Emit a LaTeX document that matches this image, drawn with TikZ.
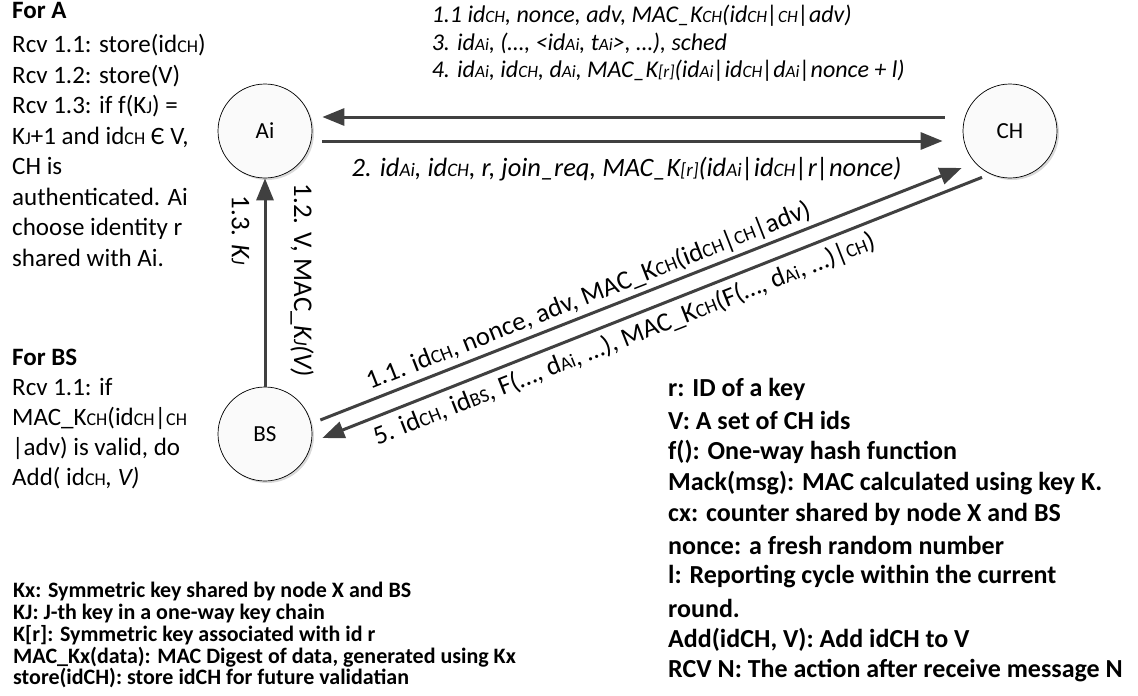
\documentclass[tikz,border=0pt]{standalone}
\usepackage{fontspec}
\setmainfont{Carlito}
\usepackage{graphicx}
\usetikzlibrary{arrows.meta, shadows}

\definecolor{msggray}{HTML}{404040}
\newcommand{\sm}[1]{\scalebox{0.72}{#1}}

\tikzset{
  station/.style={circle, draw=black, line width=0.7pt, fill=gray!4, minimum size=94pt, inner sep=0pt,
    font=\fontsize{23}{27}\selectfont, drop shadow={shadow xshift=2pt, shadow yshift=-2pt, opacity=0.3}},
  msg/.style={line width=3pt, draw=msggray, -{Triangle[length=22pt, width=17pt]}},
  toplbl/.style={font=\fontsize{24}{27.5}\selectfont\itshape, inner sep=0pt, align=left},
  diaglbl/.style={font=\fontsize{26.5}{30}\selectfont, inner sep=2pt, sloped},
  vlbl/.style={font=\fontsize{27}{30}\selectfont, rotate=-90, inner xsep=0pt},
  note/.style={font=\fontsize{25}{30.5}\selectfont, align=left, inner sep=0pt, anchor=north west},
  legend/.style={font=\fontsize{22}{26}\selectfont\bfseries, inner sep=0pt, anchor=west}
}

\begin{document}
\begin{tikzpicture}[x=1pt, y=-1pt]
    \useasboundingbox (0,0) rectangle (1138,696);

    % 1. THE THREE NODES
    \node[station] (Ai) at (265,131) {Ai};
    \node[station] (CH) at (1010,131) {CH};
    \node[station] (BS) at (265,434) {BS};

    % 2. MESSAGES BETWEEN Ai AND CH
    \draw[msg] ([shift={(-18,-14)}]CH.west) -- ([shift={(10,-14)}]Ai.east)
        node[toplbl, pos=0.8266, anchor=south west, yshift=34pt] (lblTop) {1.1 id\sm{CH}, nonce, adv, MAC\_K\sm{CH}(id\sm{CH}|\sm{CH}|adv)\\
        3. id\sm{Ai}, (…, <id\sm{Ai}, t\sm{Ai}>, …), sched\\
        4. id\sm{Ai}, id\sm{CH}, d\sm{Ai}, MAC\_K\sm{[r]}(id\sm{Ai}|id\sm{CH}|d\sm{Ai}|nonce + l)};
    \draw[msg] ([shift={(10,10)}]Ai.east) -- ([shift={(-20,10)}]CH.west)
        node[toplbl, font=\fontsize{26.5}{30}\selectfont\itshape, pos=0.936, anchor=north east, yshift=-15pt] (lblJoin) {2. id\sm{Ai}, id\sm{CH}, r, join\_req, MAC\_K\sm{[r]}(id\sm{Ai}|id\sm{CH}|r|nonce)};

    % 3. MESSAGES FROM BS TO Ai
    \draw[msg] (BS.north) -- (Ai.south)
        node[vlbl, pos=0.75, anchor=north, inner ysep=14pt] (lblKJ) {1.3. \textit{K\sm{J}}}
        node[vlbl, pos=0.51, anchor=south, inner ysep=24pt] (lblV) {1.2. V, MAC\_\textit{K\sm{J}(V)}};

    % 4. MESSAGES BETWEEN BS AND CH
    \draw[msg] ([shift={(8,-14)}]BS.east) -- ([shift={(-1,37)}]CH.west)
        node[diaglbl, pos=0.428, above=2pt] (lblAdv) {1.1. id\sm{CH}, nonce, adv, MAC\_K\sm{CH}(id\sm{CH}|\sm{CH}|adv)};
    \draw[msg] ([shift={(-28,-1)}]CH.south) -- ([shift={(10,4)}]BS.east)
        node[diaglbl, pos=0.553, below=4pt] (lblRep) {5. id\sm{CH}, id\sm{BS}, F(…, d\sm{Ai}, …), MAC\_K\sm{CH}(F(…, d\sm{Ai}, …)|\sm{CH})};

    % 5. ACTIONS OF A AND BS
    \node[note] (noteA) at (12,2) {\textbf{For A}\\[4pt]
        Rcv 1.1: store(id\sm{CH})\\
        Rcv 1.2: store(V)\\
        Rcv 1.3: if f(K\sm{J}) =\\
        K\sm{J}+1 and id\sm{CH} Є V,\\
        CH is\\
        authenticated. Ai\\
        choose identity r\\
        shared with Ai.};
    \node[note, font=\fontsize{25}{30}\selectfont] (noteBS) at (12,349) {\textbf{For BS}\\
        Rcv 1.1: if\\
        MAC\_K\sm{CH}(id\sm{CH}|\sm{CH}\\
        |adv) is valid, do\\
        Add( id\sm{CH}\textit{, V)}};

    % 6. DEFINITIONS
    \foreach \i/\t in {
        0/Kx: Symmetric key shared by node X and BS,
        1/KJ: J-th key in a one-way key chain,
        2/{K[r]: Symmetric key associated with id r},
        3/{MAC\_Kx(data): MAC Digest of data, generated using Kx},
        4/store(idCH): store idCH for future validatian
    } {
        \node[legend] (defl\i) at (13, 592+21.6*\i) {\t};
    }
    \foreach \i/\t in {
        0/r: ID of a key,
        1/V: A set of CH ids,
        2/f(): One-way hash function,
        3/Mack(msg): MAC calculated using key K.,
        4/cx: counter shared by node X and BS,
        5/nonce: a fresh random number,
        6/l: Reporting cycle within the current,
        7/round.,
        8/{Add(idCH, V): Add idCH to V},
        9/RCV N: The action after receive message N
    } {
        \node[legend, font=\fontsize{26}{30}\selectfont\bfseries] (defr\i) at (668, 389+31.3*\i) {\t};
    }

\end{tikzpicture}
\end{document}
